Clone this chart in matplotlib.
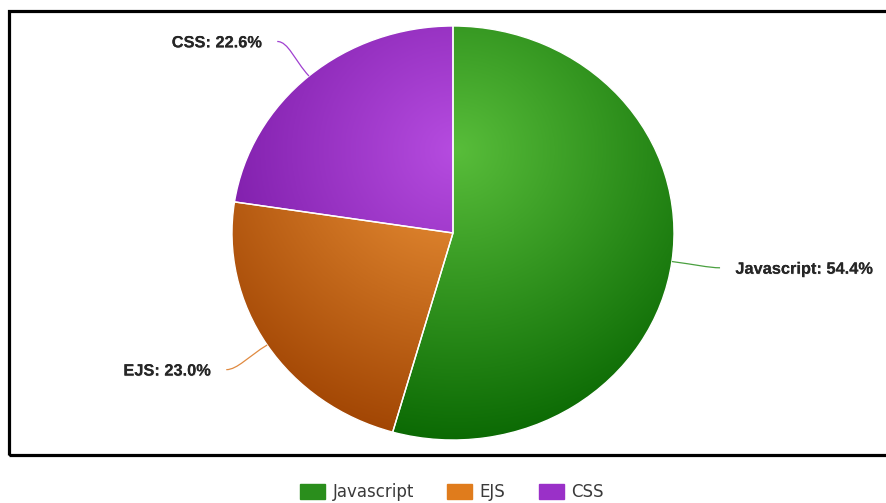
import numpy as np
import matplotlib
matplotlib.use("Agg")
import matplotlib.pyplot as plt
import matplotlib.patheffects as pe
from matplotlib.colors import LinearSegmentedColormap
from matplotlib.patches import Rectangle, Patch
from matplotlib.path import Path
from matplotlib.patches import PathPatch

labels = ["Javascript", "EJS", "CSS"]
shares = [54.4, 23.0, 22.6]
light = ["#58bd3a", "#f0963a", "#b64ce0"]   # gradient centre
dark = ["#066400", "#9c4000", "#6c0e98"]    # gradient rim
line_col = ["#4aa040", "#e08a40", "#a040d0"]
legend_col = ["#2a8e1c", "#e07c1c", "#9a30c8"]

W, H = 886, 503
fig = plt.figure(figsize=(W / 100, H / 100), dpi=100)

# pie is a bit wider than tall in the reference
cx, cy, rx, ry = 453, 233, 221, 207
ax = fig.add_axes([(cx - rx) / W, (H - cy - ry) / H, 2 * rx / W, 2 * ry / H])
wedges, _ = ax.pie(shares, startangle=90, counterclock=False, radius=1,
                   wedgeprops=dict(facecolor="none", edgecolor="white", linewidth=1.0))
ax.set_aspect("auto")
ax.set_xlim(-1, 1)
ax.set_ylim(-1, 1)
ax.axis("off")

# radial gradient shared by all slices, centred a bit above the middle
xs = np.linspace(-1, 1, 500)
X, Y = np.meshgrid(xs, xs)
t = np.clip(np.hypot(X - 0.02, Y - 0.4) / 1.5, 0, 1)
for i, w in enumerate(wedges):
    cmap = LinearSegmentedColormap.from_list("g%d" % i, [light[i], dark[i]])
    im = ax.imshow(t, extent=(-1, 1, -1, 1), origin="lower", cmap=cmap,
                   vmin=0, vmax=1, aspect="auto", interpolation="bilinear", zorder=0)
    im.set_clip_path(w)
    w.set_zorder(2)

# labels with curved connectors
for i, w in enumerate(wedges):
    a = np.deg2rad((w.theta1 + w.theta2) / 2)
    ux, uy = np.cos(a), np.sin(a)
    side = 1 if ux > 0 else -1
    p0 = (ux, uy)
    p1 = (1.1 * ux, 1.1 * uy)
    p3 = (1.22 * ux, 1.22 * uy)
    p2 = (p3[0] - side * 0.05, p3[1])
    path = Path([p0, p1, p2, p3], [Path.MOVETO, Path.CURVE4, Path.CURVE4, Path.CURVE4])
    ax.add_patch(PathPatch(path, facecolor="none", edgecolor=line_col[i],
                           linewidth=0.9, clip_on=False, zorder=3))
    txt = ax.annotate("%s: %.1f%%" % (labels[i], shares[i]), xy=p3,
                      xytext=(side * 11, -1), textcoords="offset points",
                      ha="left" if side > 0 else "right", va="center",
                      fontsize=11.8, fontweight="bold", color="#262626",
                      family="Liberation Sans", annotation_clip=False, zorder=4)
    txt.set_path_effects([pe.withSimplePatchShadow(offset=(0.5, -0.5),
                                                   shadow_rgbFace="#999999", alpha=0.22),
                          pe.Normal()])

# thick frame around the plot area (runs off the right edge)
fig.patches.append(Rectangle((9 / W, (H - 455) / H), 1.0, (455 - 11) / H,
                             transform=fig.transFigure, fill=False,
                             edgecolor="black", linewidth=2.3, zorder=5))

handles = [Patch(facecolor=c, edgecolor=c) for c in legend_col]
leg = fig.legend(handles, labels, loc="center", bbox_to_anchor=(452 / W, 11 / H),
                 ncol=3, frameon=False, fontsize=12, handlelength=1.5,
                 handleheight=1.0, handletextpad=0.45, columnspacing=2.0)
for tx in leg.get_texts():
    tx.set_color("#3a3a3a")

fig.savefig("out.png", dpi=100, facecolor="white")
